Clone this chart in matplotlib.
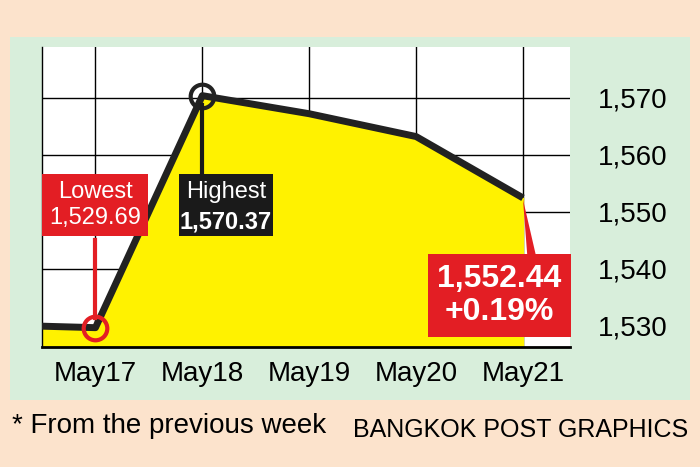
import matplotlib
matplotlib.use("Agg")
import matplotlib.pyplot as plt
from matplotlib.patches import Rectangle, Polygon

plt.rcParams['font.family'] = ['Liberation Sans Narrow', 'Liberation Sans', 'DejaVu Sans']

days = ["May17", "May18", "May19", "May20", "May21"]
xpos = [-0.5, 0, 1, 2, 3, 4]
values = [1529.95, 1529.69, 1570.37, 1567.2, 1563.2, 1552.44]
yticks = [1530, 1540, 1550, 1560, 1570]

W, H = 700, 467
fig = plt.figure(figsize=(7, 4.67), dpi=100)
fig.patch.set_facecolor("#fce3cc")
fig.add_artist(Rectangle((10/W, 1-400/H), 680/W, 363/H, transform=fig.transFigure,
                         facecolor="#d8eedb", edgecolor="none", zorder=0))
ax = fig.add_axes([42/W, 1-347/H, 528/W, 300/H])
ax.set_facecolor("white")
ax.set_xlim(-0.5, 4.44)
ax.set_ylim(1526.3, 1578.9)
for y in yticks:
    ax.axhline(y, color="black", lw=1, zorder=1)
for i in range(5):
    ax.axvline(i, color="black", lw=1, zorder=1)
ax.fill_between(xpos, values, 1526.3, color="#fff200", zorder=2)
ax.plot(xpos, values, color="#222222", lw=5, zorder=3, solid_capstyle="butt")
ax.plot(0, 1529.69, "o", ms=17, mfc="none", mec="#e31e24", mew=3, zorder=4)
ax.plot(1, 1570.37, "o", ms=17, mfc="none", mec="#222222", mew=3, zorder=4)
for s in ["top", "right"]:
    ax.spines[s].set_visible(False)
ax.spines["left"].set_linewidth(1)
ax.spines["bottom"].set_linewidth(2)
ax.set_xticks(range(5))
ax.set_xticklabels(days, fontsize=20)
ax.yaxis.tick_right()
ax.set_yticks(yticks)
ax.set_yticklabels([f"{v:,}" for v in yticks], fontsize=20)
ax.tick_params(length=0, pad=10)
ax.tick_params(axis="y", pad=20)

# annotations
ax.plot([0, 0], [1531.3, 1545], color="#e31e24", lw=3, zorder=5)
ax.text(0, 1551.2, "Lowest\n1,529.69", ha="center", va="center", fontsize=17, color="white",
        linespacing=1.25, bbox=dict(boxstyle="square,pad=0.3", fc="#e31e24", ec="none"), zorder=6)
ax.text(1.22, 1551.2, "Highest\n", ha="center", va="center", fontsize=17, color="white",
        linespacing=1.25, bbox=dict(boxstyle="square,pad=0.3", fc="#1a1a1a", ec="none"), zorder=6)
ax.text(1.22, 1548.3, "1,570.37", ha="center", va="center", fontsize=17, color="white",
        fontweight="bold", zorder=7)
ax.plot([1, 1], [1568.8, 1556], color="#1a1a1a", lw=3, zorder=5)
ax.add_patch(Polygon([[4.0, 1552.2], [4.05, 1540], [4.15, 1540]], closed=True,
                     fc="#e31e24", ec="none", zorder=5))
ax.text(3.78, 1535.3, "1,552.44\n+0.19%", ha="center", va="center", fontsize=23, color="white",
        fontweight="bold", linespacing=1.15,
        bbox=dict(boxstyle="square,pad=0.3", fc="#e31e24", ec="none"), zorder=6)

fig.text(12/W, 1-426/H, "* From the previous week", fontsize=20, va="center")
fig.text(688/W, 1-430/H, "BANGKOK POST GRAPHICS", fontsize=18, va="center", ha="right")
fig.savefig("out.png", dpi=100, facecolor=fig.get_facecolor())
